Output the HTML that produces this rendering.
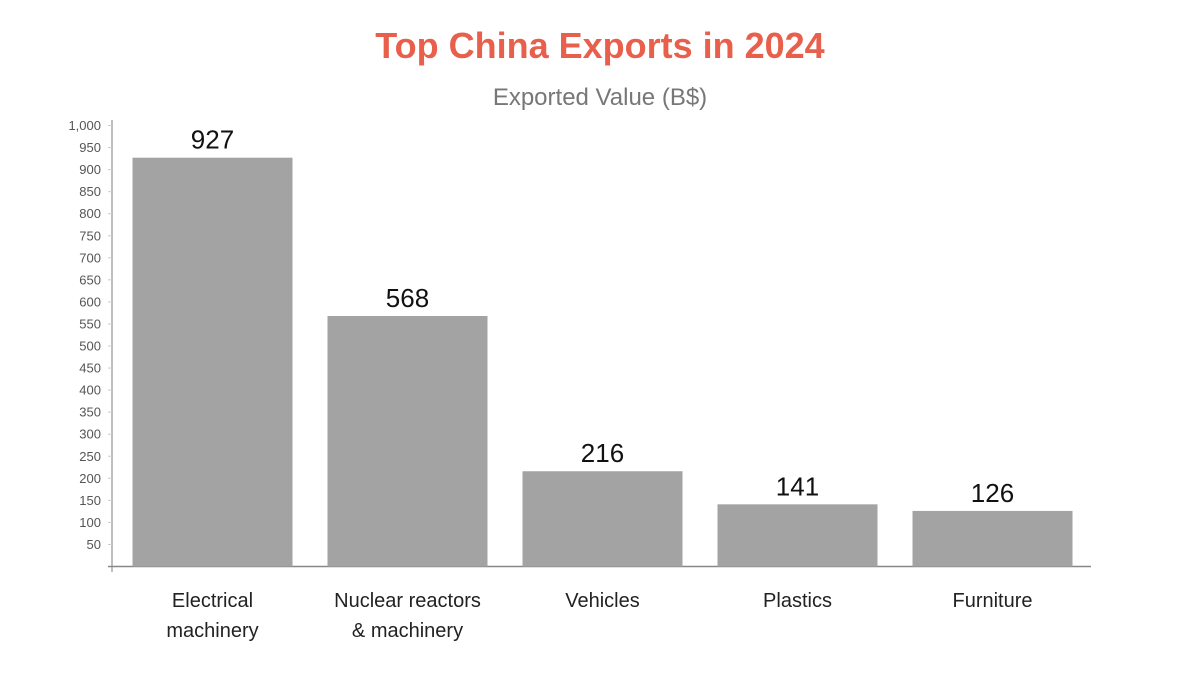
<!DOCTYPE html>
<html><head><meta charset="utf-8"><style>
body{margin:0;background:#fff;font-family:"Liberation Sans",sans-serif}
svg text{font-family:"Liberation Sans",sans-serif}
</style></head><body>
<svg width="1200" height="675" viewBox="0 0 1200 675">
<text x="600" y="58" text-anchor="middle" font-size="36" font-weight="bold" fill="#e85f4c">Top China Exports in 2024</text>
<text x="600" y="105" text-anchor="middle" font-size="24" fill="#777">Exported Value (B$)</text>
<g id="axes"></g>
<g id="bars"></g>
</svg>
<script>
const categories=[["Electrical","machinery"],["Nuclear reactors","& machinery"],["Vehicles"],["Plastics"],["Furniture"]];
const values=[927,568,216,141,126];
const ticks=[50,100,150,200,250,300,350,400,450,500,550,600,650,700,750,800,850,900,950,1000];
const tickLabels=["50","100","150","200","250","300","350","400","450","500","550","600","650","700","750","800","850","900","950","1,000"];
const NS="http://www.w3.org/2000/svg";
const x0=112,x1=1087,y0=566.5,yTop=125.5,maxV=1000;
const y=v=>y0-(v/maxV)*(y0-yTop);
const slot=(x1-x0)/categories.length;
const xc=i=>x0+slot*(i+0.5)+3;
function mk(t,a,p){const e=document.createElementNS(NS,t);for(const k in a)e.setAttribute(k,a[k]);p.appendChild(e);return e;}
const ax=document.getElementById('axes'),bg=document.getElementById('bars');
const yl=mk('line',{x1:x0,y1:120,x2:x0,y2:572,stroke:'#aaa','stroke-width':1.5},ax);


const xl=mk('line',{x1:x0-4,y1:y0,x2:1091,y2:y0,stroke:'#888','stroke-width':1.5},ax);


ticks.forEach((t,i)=>{
  const tm=mk('line',{x1:x0-4,y1:y(t),x2:x0,y2:y(t),stroke:'#ccc'},ax);
  
  
  const tx=mk('text',{x:x0-11,y:y(t)+4.5,'text-anchor':'end','font-size':13,fill:'#555'},ax);
  tx.textContent=tickLabels[i];
  
  
});
values.forEach((v,i)=>{
  const r=mk('rect',{x:xc(i)-80,y:y(v),width:160,height:y0-y(v),fill:'#a3a3a3'},bg);
  
  
  const lb=mk('text',{x:xc(i),y:y(v)-9,'text-anchor':'middle','font-size':26,fill:'#111'},bg);
  lb.textContent=v;
  
  
  categories[i].forEach((ln,j)=>{
    const c=mk('text',{x:xc(i),y:607+j*30,'text-anchor':'middle','font-size':20,fill:'#222'},bg);
    c.textContent=ln;
    
    
  });
});
</script>
</body></html>
